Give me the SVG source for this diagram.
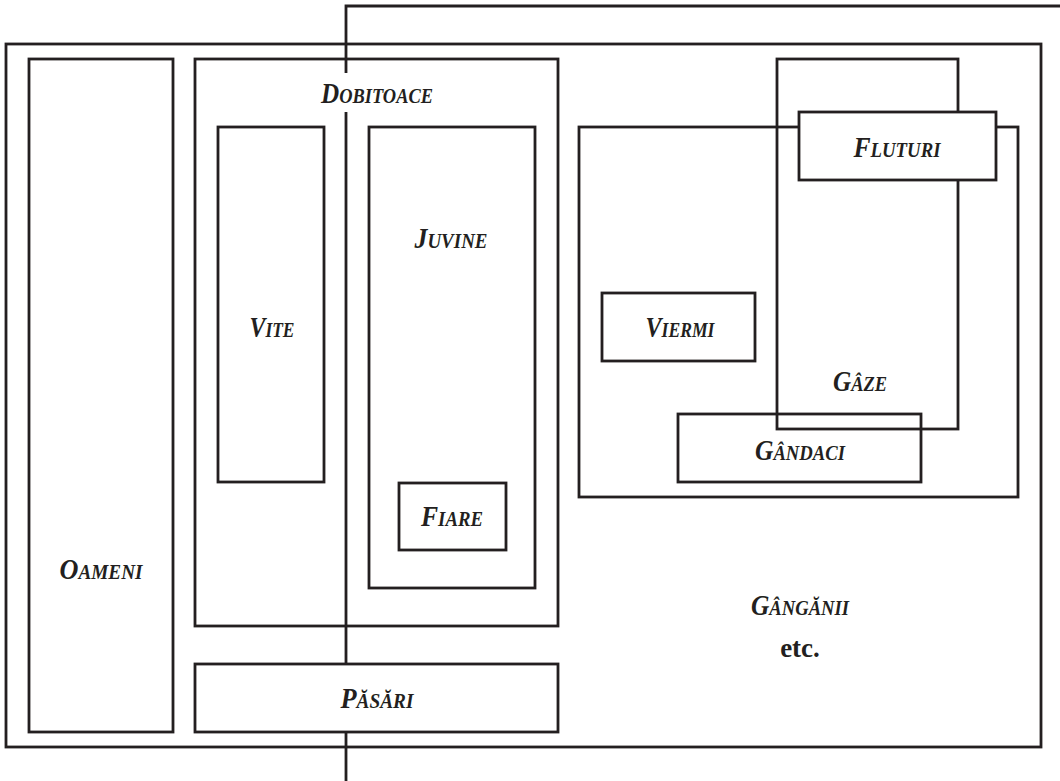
<svg xmlns="http://www.w3.org/2000/svg" width="1060" height="781" viewBox="0 0 1060 781">
<style>
.box{fill:none;stroke:#231f20;stroke-width:2.8}
.fill{fill:#ffffff;stroke:#231f20;stroke-width:2.8}
.ln{fill:none;stroke:#231f20;stroke-width:2.8}
.lbl{font-family:"Liberation Serif","Times New Roman",serif;font-weight:bold;font-style:italic;font-size:30px;fill:#231f20;text-anchor:middle}
.sc{font-size:22px}
.etc{font-family:"Liberation Serif","Times New Roman",serif;font-weight:bold;font-size:27px;fill:#231f20;text-anchor:middle}
</style>
<rect width="1060" height="781" fill="#ffffff"/>
<g id="lumea">
<rect class="box" x="6" y="44" width="1035" height="703"/>
<text class="lbl" x="800" y="615" textLength="98" lengthAdjust="spacingAndGlyphs">G<tspan class="sc">ÂNGĂNII</tspan></text>
<text class="etc" x="800" y="657">etc.</text>
</g>
<g id="connectors">
<path class="ln" d="M346,73 V6 H1060"/>
<path class="ln" d="M346,112 V664"/>
<path class="ln" d="M346,732 V781"/>
</g>
<g id="oameni">
<rect class="box" x="29" y="59" width="144" height="673"/>
<text class="lbl" x="101" y="579" textLength="83" lengthAdjust="spacingAndGlyphs">O<tspan class="sc">AMENI</tspan></text>
</g>
<g id="dobitoace">
<rect class="box" x="195" y="59" width="363" height="567"/>
<text class="lbl" x="377" y="103" textLength="112" lengthAdjust="spacingAndGlyphs">D<tspan class="sc">OBITOACE</tspan></text>
</g>
<g id="vite">
<rect class="box" x="218" y="127" width="106" height="355"/>
<text class="lbl" x="272" y="337" textLength="45" lengthAdjust="spacingAndGlyphs">V<tspan class="sc">ITE</tspan></text>
</g>
<g id="juvine">
<rect class="box" x="369" y="127" width="166" height="461"/>
<text class="lbl" x="451" y="248" textLength="73" lengthAdjust="spacingAndGlyphs">J<tspan class="sc">UVINE</tspan></text>
</g>
<g id="fiare">
<rect class="box" x="399" y="483" width="107" height="67"/>
<text class="lbl" x="452" y="526" textLength="62" lengthAdjust="spacingAndGlyphs">F<tspan class="sc">IARE</tspan></text>
</g>
<g id="pasari">
<rect class="fill" x="195" y="664" width="363" height="68"/>
<text class="lbl" x="377" y="708" textLength="73" lengthAdjust="spacingAndGlyphs">P<tspan class="sc">ĂSĂRI</tspan></text>
</g>
<g id="gangani">
<rect class="box" x="579" y="127" width="439" height="370"/>
</g>
<g id="viermi">
<rect class="box" x="602" y="293" width="153" height="68"/>
<text class="lbl" x="680" y="337" textLength="69" lengthAdjust="spacingAndGlyphs">V<tspan class="sc">IERMI</tspan></text>
</g>
<g id="gaze">
<rect class="box" x="777" y="59" width="181" height="370"/>
<text class="lbl" x="860" y="391" textLength="54" lengthAdjust="spacingAndGlyphs">G<tspan class="sc">ÂZE</tspan></text>
</g>
<g id="gandaci">
<rect class="box" x="678" y="414" width="243" height="68"/>
<text class="lbl" x="800" y="460" textLength="90" lengthAdjust="spacingAndGlyphs">G<tspan class="sc">ÂNDACI</tspan></text>
</g>
<g id="fluturi">
<rect class="fill" x="799" y="112" width="197" height="68"/>
<text class="lbl" x="897" y="157" textLength="87" lengthAdjust="spacingAndGlyphs">F<tspan class="sc">LUTURI</tspan></text>
</g>
</svg>
